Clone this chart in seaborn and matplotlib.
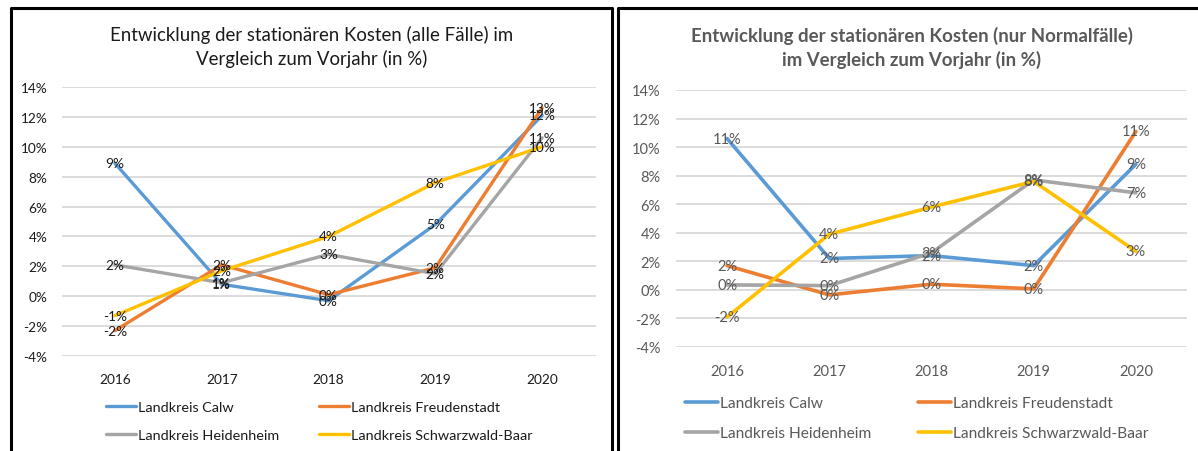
import matplotlib
matplotlib.use("Agg")
import matplotlib.pyplot as plt
from matplotlib.lines import Line2D
import seaborn as sns
import pandas as pd

# Daten
jahre = ["2016", "2017", "2018", "2019", "2020"]
kreise = ["Landkreis Calw", "Landkreis Freudenstadt",
          "Landkreis Heidenheim", "Landkreis Schwarzwald-Baar"]

# alle Faelle
calw_alle = [8.9, 0.8, -0.3, 4.8, 12.1]
freud_alle = [-2.3, 2.1, 0.1, 1.9, 12.6]
heid_alle = [2.1, 0.9, 2.8, 1.5, 10.6]
sbaar_alle = [-1.3, 1.7, 4.0, 7.6, 10.0]

# nur Normalfaelle
calw_normal = [10.6, 2.2, 2.4, 1.7, 8.8]
freud_normal = [1.7, -0.35, 0.4, 0.07, 11.1]
heid_normal = [0.35, 0.3, 2.6, 7.7, 6.8]
sbaar_normal = [-1.9, 3.9, 5.8, 7.6, 2.7]

farben = ["#5B9BD5", "#ED7D31", "#A5A5A5", "#FFC000"]
yticks = [-4, -2, 0, 2, 4, 6, 8, 10, 12, 14]

sns.set_style("white")
plt.rcParams['font.family'] = ['Lato', 'DejaVu Sans']

W, H = 1198, 452


def to_df(serien):
    rows = []
    for name, werte in zip(kreise, serien):
        for j, v in zip(jahre, werte):
            rows.append({"Jahr": j, "Wert": v, "Landkreis": name})
    return pd.DataFrame(rows)


def fbox(x0, y0, x1, y1):
    """Pixel-Box -> Figurenkoordinaten"""
    return [x0 / W, 1 - y1 / H, (x1 - x0) / W, (y1 - y0) / H]


def panel(ax, serien, txtcol, lblsize, ypad, lw):
    df = to_df(serien)
    sns.lineplot(data=df, x="Jahr", y="Wert", hue="Landkreis", palette=farben,
                 linewidth=lw, sort=False, ax=ax, legend=True)
    for werte in serien:
        for i, v in enumerate(werte):
            ax.text(i, v, f"{round(v)}%", ha="center", va="center",
                    fontsize=lblsize, color=txtcol, zorder=5)
    ax.set_xlim(-0.5, 4.5)
    ax.set_ylim(-4, 14)
    ax.set_yticks(yticks)
    ax.set_yticklabels([f"{t}%" for t in yticks])
    ax.grid(axis="y", color="#D9D9D9", linewidth=1.3)
    ax.set_axisbelow(True)
    for s in ax.spines.values():
        s.set_visible(False)
    ax.tick_params(length=0, labelsize=lblsize, colors=txtcol)
    ax.tick_params(axis="y", pad=ypad)
    ax.tick_params(axis="x", pad=12)
    ax.set_xlabel("")
    ax.set_ylabel("")
    h, l = ax.get_legend_handles_labels()
    ax.get_legend().remove()
    return h, l


fig = plt.figure(figsize=(W / 100, H / 100), dpi=100)
fig.patch.set_facecolor("white")

ax1 = fig.add_axes(fbox(61.5, 88, 595.5, 357))
ax2 = fig.add_axes(fbox(676, 91, 1187, 348))

h1, l1 = panel(ax1, [calw_alle, freud_alle, heid_alle, sbaar_alle], "#1a1a1a", 9.8, 10, 2.4)
h2, l2 = panel(ax2, [calw_normal, freud_normal, heid_normal, sbaar_normal], "#595959", 10.5, 11, 2.6)

# Titel
fig.text(312 / W, 1 - 47 / H, "Entwicklung der stationären Kosten (alle Fälle) im\nVergleich zum Vorjahr (in %)",
         ha="center", va="center", fontsize=13.4, color="#1a1a1a", linespacing=1.35)
fig.text(912 / W, 1 - 48 / H, "Entwicklung der stationären Kosten (nur Normalfälle)\nim Vergleich zum Vorjahr (in %)",
         ha="center", va="center", fontsize=13.4, fontweight="bold", color="#595959", linespacing=1.35)

# Legenden (Reihenfolge zeilenweise wie in Excel)
order = [0, 2, 1, 3]
for h, l, x0, y0, col, fs, cs, ls in [(h1, l1, 106, 402, "#1a1a1a", 10.4, 2.7, 1.1),
                                      (h2, l2, 685, 397, "#595959", 11.2, 3.0, 1.05)]:
    leg = fig.legend([h[i] for i in order], [l[i] for i in order], ncol=2,
                     loc="upper left", bbox_to_anchor=(x0 / W, 1 - y0 / H),
                     frameon=False, fontsize=fs, handlelength=2.1, handletextpad=0.15,
                     columnspacing=cs, labelspacing=ls, borderaxespad=0, borderpad=0)
    for t in leg.get_texts():
        t.set_color(col)

# Rahmen der beiden Diagramme
def fline(xs, ys):
    fig.add_artist(Line2D([x / W for x in xs], [1 - y / H for y in ys],
                          color="black", linewidth=2.2, solid_capstyle="butt"))

fline([11, 11, 612, 612], [460, 9, 9, 460])
fline([618, 618, 1200], [460, 9, 9])

fig.savefig("out.png", dpi=100)
